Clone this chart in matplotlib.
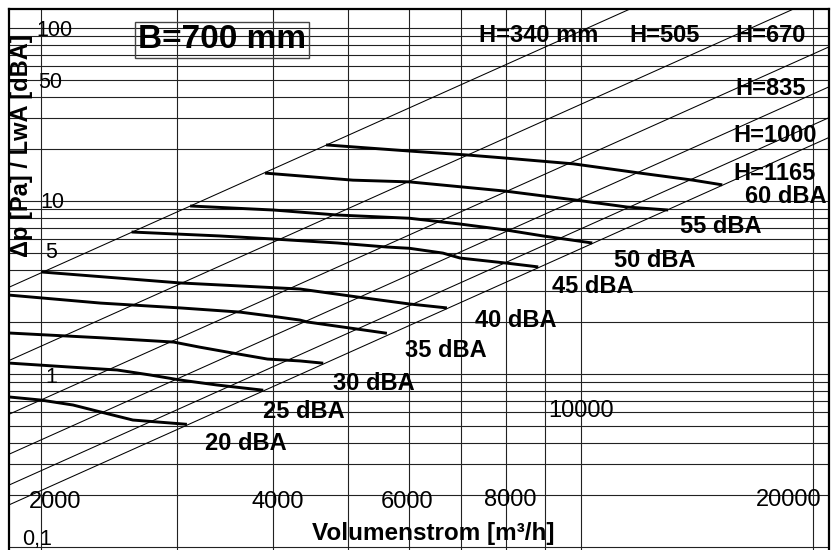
import numpy as np
import matplotlib
matplotlib.use("Agg")
import matplotlib.pyplot as plt

plt.rcParams['font.family'] = ['Liberation Sans', 'DejaVu Sans']

# system lines dp = k * (Q/10000)^2, k = pressure at 10000 m3/h
h_labels = ["H=340 mm", "H=505", "H=670", "H=835", "H=1000", "H=1165"]
h_p10k = [96.0, 36.2, 17.7, 10.4, 6.9, 5.3]

# sound level curves (Q in m3/h, dp in Pa)
db_labels = ["60 dBA", "55 dBA", "50 dBA", "45 dBA", "40 dBA",
             "35 dBA", "30 dBA", "25 dBA", "20 dBA"]
q60 = [4680, 6000, 7130, 8000, 9780, 11940, 13980, 15250]
p60 = [21.1, 19.45, 18.45, 17.7, 16.4, 14.5, 13.2, 12.4]
q55 = [3900, 5070, 6000, 8000, 9900, 11480, 12980]
p55 = [14.5, 13.2, 12.9, 11.4, 10.1, 9.23, 8.87]
q50 = [3120, 4000, 4840, 6000, 6980, 8000, 8940, 10350]
p50 = [9.36, 8.87, 8.30, 7.95, 7.36, 6.80, 6.28, 5.72]
q45 = [2620, 3410, 4000, 4840, 5610, 6000, 6630, 6980, 8000, 8810]
p45 = [6.62, 6.28, 6.03, 5.72, 5.42, 5.33, 5.0, 4.68, 4.38, 4.16]
q40 = [2000, 3030, 4330, 5130, 6000, 6710]
p40 = [3.89, 3.36, 3.10, 2.79, 2.54, 2.41]
q35 = [1800, 2390, 3030, 3620, 4040, 4330, 4420, 5130, 5610]
p35 = [2.87, 2.57, 2.41, 2.28, 2.14, 2.05, 2.0, 1.82, 1.72]
q30 = [1800, 2390, 2970, 3210, 3550, 3930, 4330, 4640]
p30 = [1.73, 1.62, 1.53, 1.43, 1.32, 1.22, 1.19, 1.155]
q25 = [1800, 2160, 2510, 2770, 3030, 3380, 3880]
p25 = [1.16, 1.10, 1.055, 0.987, 0.923, 0.864, 0.806]
q20 = [1800, 2000, 2200, 2390, 2630, 3090]
p20 = [0.74, 0.707, 0.662, 0.603, 0.542, 0.512]
db_q = [q60, q55, q50, q45, q40, q35, q30, q25, q20]
db_p = [p60, p55, p50, p45, p40, p35, p30, p25, p20]

xtick_vals = [2000, 4000, 6000, 8000, 10000, 20000]
ytick_vals = [100, 50, 10, 5, 1, 0.1]
ytick_text = ["100", "50", "10", "5", "1", "0,1"]

W, H = 839, 550
fig = plt.figure(figsize=(W / 100, H / 100), dpi=100)
ax = fig.add_axes([9 / W, 0, 820 / W, 541 / H])
ax.set_xscale('log')
ax.set_yscale('log')
ax.set_xlim(1818, 20965)
ax.set_ylim(0.0961, 128.8)

ax.grid(True, which='both', color='#222222', lw=0.8)
ax.tick_params(which='both', length=0, labelbottom=False, labelleft=False)
for s in ['left', 'top', 'right']:
    ax.spines[s].set_linewidth(1.6)
ax.spines['bottom'].set_visible(False)

q = np.array(ax.get_xlim())
for k in h_p10k:
    ax.plot(q, k * (q / 1e4) ** 2, color='black', lw=0.75)

for qs, ps in zip(db_q, db_p):
    ax.plot(qs, ps, color='black', lw=2.1, solid_joinstyle='round',
            solid_capstyle='butt')

# tick labels sit inside the plot, offset from their grid lines (pixels)
x_off = [(14, 42), (4, 42), (-2, 42), (4, 44), (0, 133), (-25, 44)]
for v, (dx, dy) in zip(xtick_vals, x_off):
    ax.annotate(str(v), xy=(v, 0), xycoords=ax.get_xaxis_transform(),
                xytext=(dx, dy), textcoords='offset pixels',
                ha='center', va='baseline', fontsize=17)
y_off = [(27, -8), (29, -8), (31, -7), (36, -5), (36, -9), (13, 2)]
for v, t, (dx, dy) in zip(ytick_vals, ytick_text, y_off):
    ax.annotate(t, xy=(0, v), xycoords=ax.get_yaxis_transform(),
                xytext=(dx, dy), textcoords='offset pixels',
                ha='left', va='baseline', fontsize=15.5)


def px(x, y):
    return x / W, 1 - y / H


h_pos = [(479, 42), (629, 42), (735, 42), (735, 95), (733, 142), (733, 180)]
for t, (x, y) in zip(h_labels, h_pos):
    fig.text(*px(x, y), t, ha='left', va='baseline', fontsize=17,
             fontweight='bold')

db_pos = [(745, 203), (680, 233), (614, 267), (552, 293), (475, 327),
          (405, 357), (333, 390), (263, 418), (205, 450)]
for t, (x, y) in zip(db_labels, db_pos):
    fig.text(*px(x, y), t, ha='left', va='baseline', fontsize=17,
             fontweight='bold')

fig.text(*px(222, 40), "B=700 mm", ha='center', va='center', fontsize=24,
         fontweight='bold',
         bbox=dict(boxstyle='square,pad=0.08', fc='none', ec='#444444', lw=1))

fig.text(*px(312, 540), "Volumenstrom [m³/h]", ha='left', va='baseline',
         fontsize=17.5, fontweight='bold')
fig.text(*px(22, 146), "Δp [Pa] / LwA [dBA]", ha='center', va='center',
         rotation=90, fontsize=17, fontweight='bold')

fig.savefig("out.png", dpi=100)
